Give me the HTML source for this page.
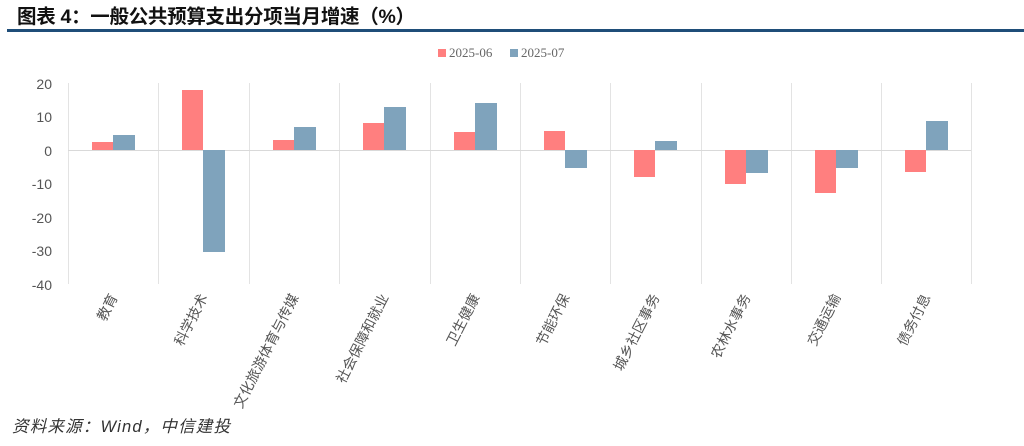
<!DOCTYPE html>
<html><head><meta charset="utf-8"><style>
body{margin:0;background:#fff;width:1024px;height:441px;overflow:hidden;font-family:"Liberation Sans","Noto Sans CJK SC",sans-serif}
</style></head><body>
<svg width="1024" height="441" xmlns="http://www.w3.org/2000/svg" font-family="Liberation Sans, Noto Sans CJK SC, sans-serif">
<text x="17" y="23" font-size="19.5" font-weight="bold" fill="#111" textLength="398">图表 4：一般公共预算支出分项当月增速（%）</text>
<rect x="7" y="29" width="1017" height="3" fill="#1f4e79"/>
<rect x="438" y="49" width="8" height="8" fill="#ff7f7f"/>
<text x="449" y="57" font-size="13" fill="#666" font-family="Liberation Serif, serif">2025-06</text>
<rect x="510" y="49" width="8" height="8" fill="#7fa3bc"/>
<text x="521" y="57" font-size="13" fill="#666" font-family="Liberation Serif, serif">2025-07</text>
<g stroke="#e3e3e3" stroke-width="1">
<line x1="68.5" y1="83" x2="68.5" y2="284"/><line x1="158.5" y1="83" x2="158.5" y2="284"/><line x1="249.5" y1="83" x2="249.5" y2="284"/><line x1="339.5" y1="83" x2="339.5" y2="284"/><line x1="430.5" y1="83" x2="430.5" y2="284"/><line x1="520.5" y1="83" x2="520.5" y2="284"/><line x1="610.5" y1="83" x2="610.5" y2="284"/><line x1="701.5" y1="83" x2="701.5" y2="284"/><line x1="791.5" y1="83" x2="791.5" y2="284"/><line x1="881.5" y1="83" x2="881.5" y2="284"/><line x1="971.5" y1="83" x2="971.5" y2="284"/>
<line x1="68" y1="150.5" x2="971" y2="150.5" stroke="#d9d9d9"/>
</g>
<g font-size="14" fill="#555" text-anchor="end">
<text x="52" y="89">20</text><text x="52" y="122">10</text><text x="52" y="156">0</text><text x="52" y="189">-10</text><text x="52" y="223">-20</text><text x="52" y="256">-30</text><text x="52" y="290">-40</text>
</g>
<g fill="#ff7f7f">
<rect x="92" y="142" width="21" height="8"/>
<rect x="182" y="90" width="21" height="60"/>
<rect x="273" y="140" width="21" height="10"/>
<rect x="363" y="123" width="21" height="27"/>
<rect x="454" y="132" width="21" height="18"/>
<rect x="544" y="131" width="21" height="19"/>
<rect x="634" y="150" width="21" height="27"/>
<rect x="725" y="150" width="21" height="34"/>
<rect x="815" y="150" width="21" height="43"/>
<rect x="905" y="150" width="21" height="22"/>
</g>
<g fill="#7fa3bc">
<rect x="113" y="135" width="22" height="15"/>
<rect x="203" y="150" width="22" height="102"/>
<rect x="294" y="127" width="22" height="23"/>
<rect x="384" y="107" width="22" height="43"/>
<rect x="475" y="103" width="22" height="47"/>
<rect x="565" y="150" width="22" height="18"/>
<rect x="655" y="141" width="22" height="9"/>
<rect x="746" y="150" width="22" height="23"/>
<rect x="836" y="150" width="22" height="18"/>
<rect x="926" y="121" width="22" height="29"/>
</g>
<g font-size="14" fill="#555" text-anchor="end">
<text transform="translate(118,297) rotate(-63)">教育</text>
<text transform="translate(208,297) rotate(-63)">科学技术</text>
<text transform="translate(299,297) rotate(-63)">文化旅游体育与传媒</text>
<text transform="translate(389,297) rotate(-63)">社会保障和就业</text>
<text transform="translate(480,297) rotate(-63)">卫生健康</text>
<text transform="translate(570,297) rotate(-63)">节能环保</text>
<text transform="translate(660,297) rotate(-63)">城乡社区事务</text>
<text transform="translate(751,297) rotate(-63)">农林水事务</text>
<text transform="translate(841,297) rotate(-63)">交通运输</text>
<text transform="translate(931,297) rotate(-63)">债务付息</text>
</g>
<text x="12" y="432" font-size="16.5" font-style="italic" fill="#333" textLength="218">资料来源：Wind，中信建投</text>
</svg>
</body></html>
